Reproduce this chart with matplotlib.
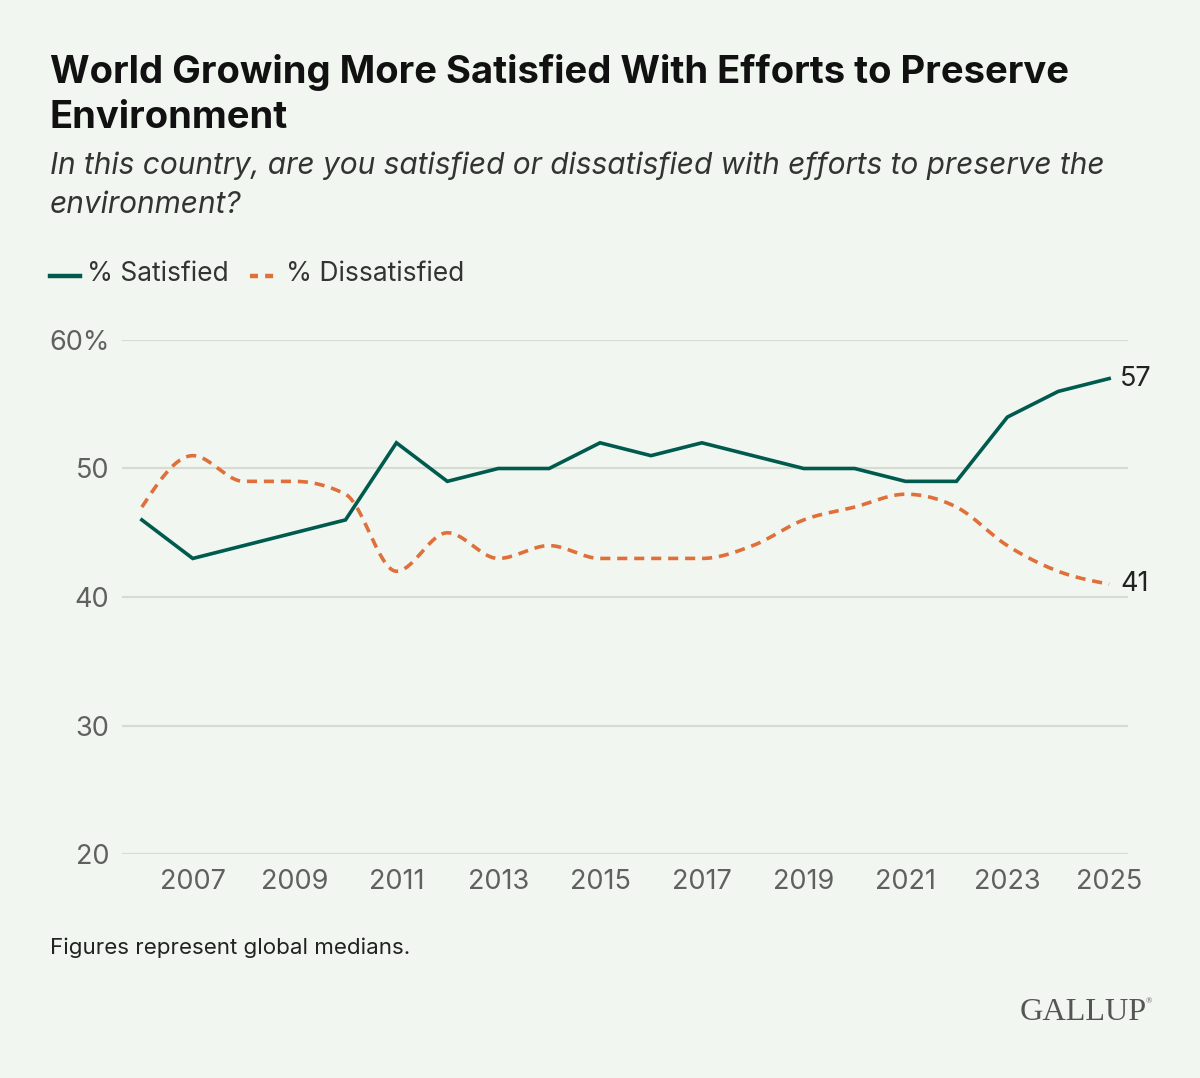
import numpy as np
import matplotlib
matplotlib.use("Agg")
import matplotlib.pyplot as plt
from matplotlib.lines import Line2D

years = list(range(2006, 2026))
satisfied = [46, 43, 44, 45, 46, 52, 49, 50, 50, 52, 51, 52, 51, 50, 50, 49, 49, 54, 56, 57]
dissatisfied = [47, 51, 49, 49, 48, 42, 45, 43, 44, 43, 43, 43, 44, 46, 47, 48, 47, 44, 42, 41]
y_ticks = [20, 30, 40, 50, 60]
y_labels = ["20", "30", "40", "50", "60%"]
x_ticks = list(range(2007, 2026, 2))

BG = "#f1f7f0"
TEAL = "#005b4e"
ORANGE = "#e0703a"
GRID = "#d6dbd4"
TICK = "#606060"

plt.rcParams["font.family"] = ["Inter", "DejaVu Sans"]


def monotone_curve(x, y, n=20):
    # monotone-x cubic (d3 style), only used to render a smooth line
    x = np.asarray(x, float)
    y = np.asarray(y, float)
    h = np.diff(x)
    s = np.diff(y) / h
    m = np.zeros_like(y)
    for i in range(1, len(y) - 1):
        p = (s[i - 1] * h[i] + s[i] * h[i - 1]) / (h[i - 1] + h[i])
        m[i] = (np.sign(s[i - 1]) + np.sign(s[i])) * min(abs(s[i - 1]), abs(s[i]), 0.5 * abs(p))
    m[0] = (3 * s[0] - m[1]) / 2
    m[-1] = (3 * s[-1] - m[-2]) / 2
    xs, ys = [], []
    for i in range(len(x) - 1):
        t = np.linspace(0, 1, n, endpoint=False)
        h00 = 2 * t**3 - 3 * t**2 + 1
        h10 = t**3 - 2 * t**2 + t
        h01 = -2 * t**3 + 3 * t**2
        h11 = t**3 - t**2
        xs.append(x[i] + t * h[i])
        ys.append(h00 * y[i] + h10 * h[i] * m[i] + h01 * y[i + 1] + h11 * h[i] * m[i + 1])
    xs.append([x[-1]])
    ys.append([y[-1]])
    return np.concatenate(xs), np.concatenate(ys)


fig = plt.figure(figsize=(12, 10.78), dpi=100, facecolor=BG)
ax = fig.add_axes([122 / 1200, 1 - 854 / 1078, (1128 - 122) / 1200, (854 - 340) / 1078])
ax.set_facecolor(BG)

ax.set_xlim(2005.61, 2025.37)
ax.set_ylim(20, 60)
ax.set_yticks(y_ticks)
ax.set_yticklabels(y_labels)
ax.set_xticks(x_ticks)
ax.set_xticklabels([str(y) for y in x_ticks])
ax.grid(axis="y", color=GRID, linewidth=1.6)
ax.set_axisbelow(True)
for s in ax.spines.values():
    s.set_visible(False)
ax.tick_params(axis="both", length=0, labelsize=19.5, labelcolor=TICK)
ax.tick_params(axis="y", pad=9)
ax.tick_params(axis="x", pad=11)

ax.plot(years, satisfied, color=TEAL, lw=2.6, solid_joinstyle="miter", clip_on=False, zorder=3)
cx, cy = monotone_curve(years, dissatisfied)
ax.plot(cx, cy, color=ORANGE, lw=2.6, dashes=(2.8, 1.9), clip_on=False, zorder=3)

ax.annotate(str(satisfied[-1]), (years[-1], satisfied[-1]), xytext=(8, 0),
            textcoords="offset points", va="center", ha="left", fontsize=19.5, color="#222222")
ax.annotate(str(dissatisfied[-1]), (years[-1], dissatisfied[-1]), xytext=(8, 0),
            textcoords="offset points", va="center", ha="left", fontsize=19.5, color="#222222")

# title block
fig.text(50 / 1200, 1 - 72 / 1078, "World Growing More Satisfied With Efforts to Preserve",
         fontsize=27.5, fontweight="bold", color="#111111", va="center")
fig.text(50 / 1200, 1 - 118 / 1078, "Environment",
         fontsize=27.5, fontweight="bold", color="#111111", va="center")
fig.text(50 / 1200, 1 - 166 / 1078,
         "In this country, are you satisfied or dissatisfied with efforts to preserve the",
         fontsize=21.5, style="italic", color="#333333", va="center")
fig.text(50 / 1200, 1 - 205 / 1078, "environment?",
         fontsize=21.5, style="italic", color="#333333", va="center")

# legend
ly = 1 - 276 / 1078
fig.add_artist(Line2D([50 / 1200, 80 / 1200], [ly, ly], color=TEAL, lw=3.2, transform=fig.transFigure))
fig.text(87 / 1200, 1 - 274 / 1078, "% Satisfied", fontsize=19, color="#333333", va="center")
fig.add_artist(Line2D([250 / 1200, 278 / 1200], [ly, ly], color=ORANGE, lw=3.2, dashes=(1.8, 1.6),
                      transform=fig.transFigure))
fig.text(286 / 1200, 1 - 274 / 1078, "% Dissatisfied", fontsize=19, color="#333333", va="center")

# footer
fig.text(50 / 1200, 1 - 948 / 1078, "Figures represent global medians.",
         fontsize=16.1, color="#222222", va="center")
fig.text(1147 / 1200, 1 - 1013 / 1078, "GALLUP", fontsize=23.2, color="#555555",
         family=["Liberation Serif", "DejaVu Serif"], ha="right", va="center")
fig.text(1152 / 1200, 1 - 1001 / 1078, "\u00ae", fontsize=6, color="#555555",
         family=["Liberation Serif", "DejaVu Serif"], ha="right", va="center")

fig.savefig("out.png", dpi=100, facecolor=BG)
